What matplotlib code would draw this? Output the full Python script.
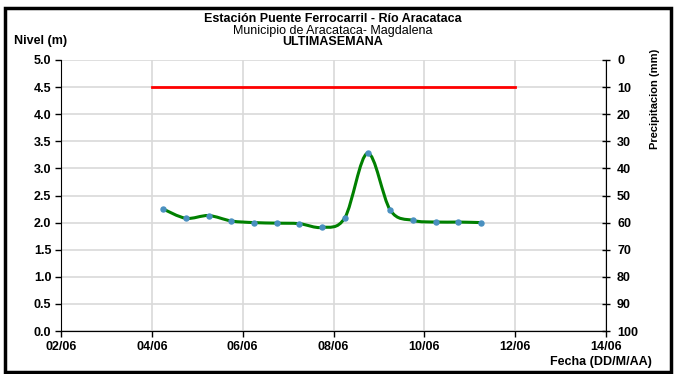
"""
Nivel del río - Estación Puente Ferrocarril (Río Aracataca), última semana
"""

import matplotlib
matplotlib.use('Agg')
import matplotlib.pyplot as plt
import matplotlib.dates as mdates
import numpy as np
import pandas as pd
from matplotlib.path import Path
from matplotlib.patches import PathPatch, Rectangle

plt.rcParams['font.family'] = ['Liberation Sans', 'DejaVu Sans']

# Data
fechas = ['2013-06-04 06:00', '2013-06-04 18:00', '2013-06-05 06:00', '2013-06-05 18:00',
          '2013-06-06 06:00', '2013-06-06 18:00', '2013-06-07 06:00', '2013-06-07 18:00',
          '2013-06-08 06:00', '2013-06-08 18:00', '2013-06-09 06:00', '2013-06-09 18:00',
          '2013-06-10 06:00', '2013-06-10 18:00', '2013-06-11 06:00']
nivel = [2.25, 2.08, 2.13, 2.03, 2.00, 1.99, 1.98, 1.91, 2.09, 3.28,
         2.23, 2.04, 2.01, 2.01, 2.00]

alerta_fechas = ['2013-06-04 00:00', '2013-06-12 00:00']
alerta_nivel = [4.5, 4.5]

x_min, x_max = '2013-06-02', '2013-06-14'

# Colors
verde = '#008000'
azul = '#4a90c0'
rojo = '#ff0000'
gris = '#d9d9d9'

fig = plt.figure(figsize=(6.77, 3.74), dpi=100)
ax = fig.add_axes([61 / 677, 1 - 331 / 374, 545 / 677, 271 / 374])

t = mdates.date2num(pd.to_datetime(fechas))
y = np.array(nivel)

# Smoothed line (Excel-style bezier through the points)
verts = [(t[0], y[0])]
codes = [Path.MOVETO]
n = len(t)
for i in range(n - 1):
    p0 = np.array([t[max(i - 1, 0)], y[max(i - 1, 0)]])
    p1 = np.array([t[i], y[i]])
    p2 = np.array([t[i + 1], y[i + 1]])
    p3 = np.array([t[min(i + 2, n - 1)], y[min(i + 2, n - 1)]])
    c1 = p1 + (p2 - p0) / 6
    c2 = p2 - (p3 - p1) / 6
    verts += [tuple(c1), tuple(c2), tuple(p2)]
    codes += [Path.CURVE4] * 3
ax.add_patch(PathPatch(Path(verts, codes), facecolor='none', edgecolor=verde,
                       linewidth=2.2, zorder=3))
ax.plot(t, y, linestyle='none', marker='o', markersize=3.6,
        markerfacecolor=azul, markeredgecolor=azul, zorder=4)

# Alert level
ax.plot(mdates.date2num(pd.to_datetime(alerta_fechas)), alerta_nivel,
        color=rojo, linewidth=2, zorder=3)

ax.set_xlim(mdates.date2num(pd.Timestamp(x_min)), mdates.date2num(pd.Timestamp(x_max)))
ax.set_ylim(0, 5)
ax.set_yticks(np.arange(0, 5.01, 0.5))
ax.yaxis.set_major_formatter(plt.FormatStrFormatter('%.1f'))
ax.xaxis.set_major_locator(mdates.DayLocator(interval=2))
ax.xaxis.set_major_formatter(mdates.DateFormatter('%d/%m'))
ax.grid(True, color=gris, linewidth=1.2)
ax.set_axisbelow(True)
ax.spines['top'].set_visible(False)
ax.spines['right'].set_visible(False)
ax.tick_params(axis='both', direction='out', length=4, width=1, labelsize=9, pad=3)
for lab in ax.get_xticklabels() + ax.get_yticklabels():
    lab.set_fontweight('bold')

# Precipitation axis (inverted, right)
ax2 = ax.twinx()
ax2.set_ylim(100, 0)
ax2.set_yticks(np.arange(0, 101, 10))
ax2.spines['top'].set_visible(False)
ax2.spines['left'].set_visible(False)
ax2.tick_params(axis='y', direction='inout', length=6, width=1, labelsize=9, pad=5)
for lab in ax2.get_yticklabels():
    lab.set_fontweight('bold')

# Titles and labels
fig.text(333 / 677, 1 - 19 / 374, 'Estación Puente Ferrocarril - Río Aracataca',
         ha='center', va='center', fontsize=9, fontweight='bold')
fig.text(333 / 677, 1 - 31 / 374, 'Municipio de Aracataca- Magdalena',
         ha='center', va='center', fontsize=9)
fig.text(333 / 677, 1 - 42 / 374, 'ULTIMASEMANA',
         ha='center', va='center', fontsize=9, fontweight='bold')
fig.text(14 / 677, 1 - 41 / 374, 'Nivel (m)', ha='left', va='center',
         fontsize=9, fontweight='bold')
fig.text(655 / 677, 1 - 99 / 374, 'Precipitacion (mm)', ha='center', va='center',
         rotation=90, fontsize=8, fontweight='bold')
fig.text(652 / 677, 1 - 362 / 374, 'Fecha (DD/M/AA)', ha='right', va='center',
         fontsize=9, fontweight='bold')

# Outer frame
fig.patches.append(Rectangle((5 / 677, 2 / 374), 666 / 677, 364 / 374,
                             transform=fig.transFigure, fill=False,
                             edgecolor='black', linewidth=2.5))

fig.savefig('out.png', dpi=100)
plt.close(fig)
